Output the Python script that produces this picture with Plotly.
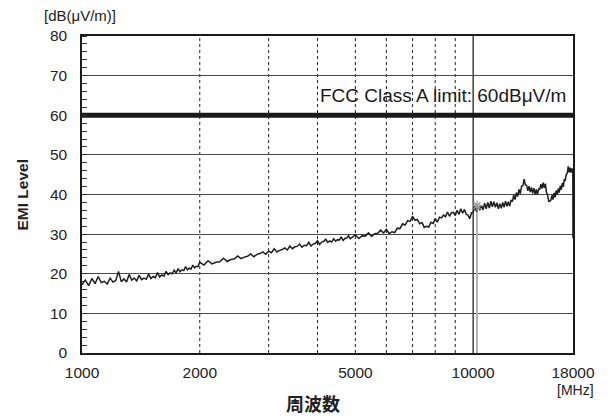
import plotly.graph_objects as go

# ---------------- data ----------------
freq_mhz = [
    1000, 1020, 1040, 1060, 1080, 1100, 1120, 1140, 1160, 1180, 1200, 1220, 1240, 1260, 1280,
    1300, 1320, 1340, 1360, 1380, 1400, 1420, 1440, 1460, 1480, 1500, 1520, 1540, 1560, 1580,
    1600, 1620, 1640, 1660, 1680, 1700, 1720, 1740, 1760, 1780, 1800, 1820, 1840, 1860, 1880,
    1900, 1920, 1940, 1960, 1980,
    2000, 2050, 2100, 2150, 2200, 2250, 2300, 2350, 2400, 2450, 2500, 2550, 2600, 2650, 2700,
    2750, 2800, 2850, 2900, 2950, 3000, 3050, 3100, 3150, 3200, 3250, 3300, 3350, 3400, 3450,
    3500, 3550, 3600, 3650, 3700, 3750, 3800, 3850, 3900, 3950, 4000, 4050, 4100, 4150, 4200,
    4250, 4300, 4350, 4400, 4450, 4500, 4550, 4600, 4650, 4700, 4750, 4800, 4850, 4900, 4950,
    5000, 5100, 5200, 5300, 5400, 5500, 5600, 5700, 5800, 5900, 6000, 6100, 6200, 6300, 6400,
    6500, 6600, 6700, 6800, 6900, 7000, 7100, 7200, 7300, 7400, 7500, 7600, 7700, 7800, 7900,
    8000, 8100, 8200, 8300, 8400, 8500, 8600, 8700, 8800, 8900, 9000, 9100, 9200, 9300, 9400,
    9500, 9600, 9700, 9800, 9900,
    10000, 10100, 10200, 10300, 10400, 10500, 10600, 10700, 10800, 10900, 11000, 11100, 11200,
    11300, 11400, 11500, 11600, 11700, 11800, 11900, 12000, 12100, 12200, 12300, 12400, 12500,
    12600, 12700, 12800, 12900, 13000, 13100, 13200, 13300, 13400, 13500, 13600, 13700, 13800,
    13900, 14000, 14100, 14200, 14300, 14400, 14500, 14600, 14700, 14800, 14900, 15000, 15100,
    15200, 15300, 15400, 15500, 15600, 15700, 15800, 15900, 16000, 16100, 16200, 16300, 16400,
    16500, 16600, 16700, 16800, 16900, 17000, 17100, 17200, 17300, 17400, 17500, 17600, 17700,
    17800, 17900, 17980, 18000,
]

emi_level_db = [
    17.2, 18.4, 17.0, 18.8, 17.5, 19.3, 17.8, 18.1, 17.4, 18.9, 17.9, 18.3, 20.6, 18.0, 18.7,
    17.9, 19.8, 18.4, 18.9, 18.2, 19.6, 18.5, 18.9, 18.6, 19.9, 18.8, 19.3, 19.0, 20.3, 19.2,
    19.7, 19.4, 20.6, 19.8, 20.2, 20.0, 20.9, 20.2, 21.3, 20.5, 21.0, 20.8, 21.8, 21.0, 21.4,
    21.2, 22.2, 21.5, 21.9, 21.8,
    22.9, 22.2, 23.3, 22.5, 22.9, 23.0, 23.9, 23.1, 23.6, 23.7, 24.5, 23.8, 24.2, 24.4, 25.0,
    24.3, 24.9, 25.1, 25.5, 24.9, 25.7, 25.3, 26.3, 25.5, 25.9, 26.1, 26.5, 26.0, 27.0, 26.3,
    26.8, 26.9, 27.5, 26.7, 27.2, 27.1, 27.9, 27.0, 27.5, 27.7, 28.3, 27.4, 28.0, 28.2, 28.7,
    27.9, 28.3, 28.0, 28.8, 28.2, 28.6, 28.5, 29.3, 28.4, 28.9, 29.0, 29.6, 28.8, 29.2, 29.4,
    29.8, 28.9, 29.6, 29.5, 30.3, 29.4, 30.1, 30.2, 31.0, 30.3, 31.2, 30.1, 30.6, 30.4, 31.5,
    31.4, 32.6, 32.3, 33.4, 33.2, 34.5, 33.5, 33.7, 32.6, 32.9, 31.7, 32.0, 31.8, 33.0, 32.7,
    33.9, 33.0, 34.3, 34.1, 34.8, 34.4, 35.6, 34.5, 35.4, 35.5, 34.7, 36.0, 35.0, 36.4, 35.3,
    36.2, 35.0, 34.8, 33.9, 35.4,
    35.4, 37.1, 35.7, 37.4, 36.0, 37.3, 36.1, 37.8, 36.4, 38.0, 36.6, 38.3, 36.9,
    38.2, 36.8, 37.9, 36.4, 37.7, 36.5, 38.0, 36.8, 38.3, 37.0, 38.2, 37.1, 38.6,
    38.2, 39.9, 38.7, 40.5, 39.5, 41.3, 40.2, 42.1, 42.2, 43.9, 42.4, 42.3, 40.9,
    42.1, 40.6, 41.8, 40.3, 41.6, 40.1, 41.3, 39.9, 41.4, 41.3, 42.6, 41.5, 43.0,
    41.7, 42.7, 40.5, 39.9, 38.3, 38.3, 38.6, 39.8, 38.7, 40.4, 39.3, 41.0, 39.9,
    41.5, 40.5, 42.2, 41.2, 42.9, 41.9, 43.7, 43.6, 45.1, 45.3, 47.1, 45.6, 46.8,
    45.5, 46.6, 45.9, 29.0,
]

limit_freq = [1000, 18000]
limit_db = [60, 60]
limit_label = "FCC Class A limit: 60dBμV/m"

marker_freq = 10230
marker_db = 37.2

grid_dashed_freqs = [2000, 3000, 4000, 5000, 6000, 7000, 8000, 9000]
grid_solid_freqs = [10000]

x_tick_vals = [1000, 2000, 5000, 10000, 18000]
x_tick_text = ["1000", "2000", "5000", "10000", "18000"]
y_tick_vals = [0, 10, 20, 30, 40, 50, 60, 70, 80]

FONT = "Liberation Sans, Arial, Helvetica, sans-serif"
CJK = "Noto Sans CJK JP, Noto Sans CJK SC, sans-serif"

fig = go.Figure()

# marker (gray)
fig.add_trace(go.Scatter(
    x=[marker_freq, marker_freq], y=[0, marker_db], mode="lines",
    line=dict(color="#b4b4b4", width=2), hoverinfo="skip", showlegend=False))

# EMI trace
fig.add_trace(go.Scatter(
    x=freq_mhz, y=emi_level_db, mode="lines",
    line=dict(color="#1e1e1e", width=1.5), showlegend=False))

fig.add_trace(go.Scatter(
    x=[marker_freq], y=[marker_db], mode="markers",
    marker=dict(symbol="asterisk-open", size=8, color="#a0a0a0", line=dict(width=1.5, color="#a0a0a0")),
    hoverinfo="skip", showlegend=False))

# limit line
fig.add_trace(go.Scatter(
    x=limit_freq, y=limit_db, mode="lines",
    line=dict(color="#1a1a1a", width=5), showlegend=False, hoverinfo="skip"))

shapes = []
for f in grid_dashed_freqs:
    shapes.append(dict(type="line", xref="x", yref="paper", x0=f, x1=f, y0=0, y1=1,
                       line=dict(color="#222", width=1, dash="3px,3px"), layer="below"))
for f in grid_solid_freqs:
    shapes.append(dict(type="line", xref="x", yref="paper", x0=f, x1=f, y0=0, y1=1,
                       line=dict(color="#222", width=1.3), layer="below"))

fig.update_layout(
    width=604, height=410,
    margin=dict(l=74, r=39, t=28, b=65),
    paper_bgcolor="white", plot_bgcolor="white",
    font=dict(family=FONT, size=14, color="#222"),
    shapes=shapes,
    annotations=[
        dict(text=limit_label, xref="paper", yref="y", x=1.0, y=64.9, xshift=-5,
             xanchor="right", yanchor="middle", showarrow=False,
             font=dict(family=FONT, size=19, color="#1a1a1a")),
        dict(text="[dB(μV/m)]", xref="paper", yref="paper", x=0.0, y=1.0,
             xanchor="center", yanchor="middle", xshift=-2, yshift=21, showarrow=False,
             font=dict(family=FONT, size=15, color="#222")),
        dict(text="[MHz]", xref="paper", yref="paper", x=1.0, y=0,
             xanchor="center", yanchor="middle", xshift=2, yshift=-37, showarrow=False,
             font=dict(family=FONT, size=14, color="#222")),
        dict(text="<b>EMI Level</b>", xref="paper", yref="paper", x=0, y=0.5,
             xanchor="center", yanchor="middle", xshift=-60, textangle=-90, showarrow=False,
             font=dict(family=FONT, size=15.5, color="#222")),
        dict(text="<b>周波数</b>", xref="paper", yref="paper", x=0.5, y=0,
             xanchor="center", yanchor="middle", xshift=-15, yshift=-50, showarrow=False,
             font=dict(family=CJK, size=18, color="#222")),
    ],
    xaxis=dict(
        type="log", range=[3, 4.25527], tickvals=x_tick_vals, ticktext=x_tick_text,
        showgrid=False, zeroline=False, showline=True, linecolor="#1a1a1a", linewidth=1.5,
        mirror=True, ticks="", ticklabelstandoff=5,
        tickfont=dict(family=FONT, size=15.5, color="#222"),
    ),
    yaxis=dict(
        range=[0, 80], tickvals=y_tick_vals, showgrid=True, gridcolor="#4a4a4a", gridwidth=1.2,
        zeroline=False, showline=True, linecolor="#1a1a1a", linewidth=1.5, mirror=True,
        ticks="", ticklabelstandoff=10,
        minor=dict(dtick=2, ticks="inside", ticklen=5, tickcolor="#333", showgrid=False),
        tickfont=dict(family=FONT, size=15.5, color="#222"),
    ),
)

fig.write_html("out.html")
